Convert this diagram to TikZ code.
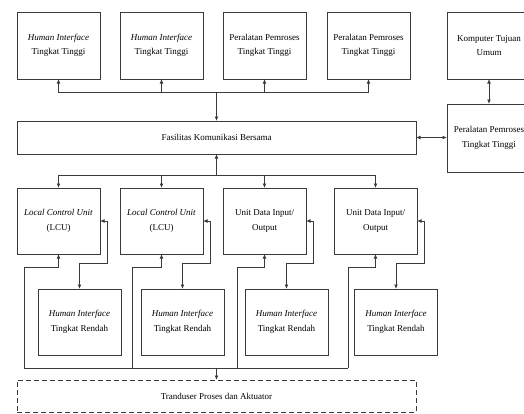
\documentclass[tikz,border=0pt]{standalone}
\usepackage{fontspec}
\setmainfont{Liberation Serif}
\usetikzlibrary{arrows.meta}
\definecolor{linec}{HTML}{3A3A3A}
\begin{document}
\begin{tikzpicture}[x=1pt,y=-1pt,
 box/.style={draw=linec, line width=0.9pt, minimum width=83pt, minimum height=67pt, inner sep=0pt, outer sep=0pt, align=center, font=\fontsize{9}{14.5}\selectfont},
 conn/.style={draw=linec, line width=0.9pt},
 arr/.style={conn,-{Latex[length=4.5pt,width=3.8pt]}},
 darr/.style={conn,{Latex[length=4.5pt,width=3.8pt]}-{Latex[length=4.5pt,width=3.8pt]}},
 dashbox/.style={box, dash pattern=on 5pt off 3pt}
]
\useasboundingbox (0,0) rectangle (524,413);

% top row
\node[box] (t1) at (58.5,45.5) {\textit{Human Interface}\\Tingkat Tinggi};
\node[box] (t2) at (161.5,45.5) {\textit{Human Interface}\\Tingkat Tinggi};
\node[box] (t3) at (264.5,45.5) {Peralatan Pemroses\\Tingkat Tinggi};
\node[box] (t4) at (368.5,45.5) {Peralatan Pemroses\\Tingkat Tinggi};
\node[box, minimum width=84pt] (pc) at (489,45.5) {Komputer Tujuan\\Umum};
\node[box, minimum width=84pt, minimum height=68pt] (r2) at (489,138) {Peralatan Pemroses\\Tingkat Tinggi};

% communication
\node[box, minimum width=399pt, minimum height=33pt] (fas) at (216.5,137.5) {Fasilitas Komunikasi Bersama};

% middle row
\node[box, minimum height=66pt] (m1) at (58.5,221) {\textit{Local Control Unit}\\(LCU)};
\node[box, minimum height=66pt] (m2) at (161.5,221) {\textit{Local Control Unit}\\(LCU)};
\node[box, minimum height=66pt] (m3) at (264.5,221) {Unit Data Input/\\Output};
\node[box, minimum height=66pt] (m4) at (375.5,221) {Unit Data Input/\\Output};

% lower row
\node[box, minimum height=66pt] (l1) at (79.5,322) {\textit{Human Interface}\\Tingkat Rendah};
\node[box, minimum height=66pt] (l2) at (182.5,322) {\textit{Human Interface}\\Tingkat Rendah};
\node[box, minimum height=66pt] (l3) at (286.5,322) {\textit{Human Interface}\\Tingkat Rendah};
\node[box, minimum height=66pt] (l4) at (396,322) {\textit{Human Interface}\\Tingkat Rendah};

% transducer
\node[dashbox, minimum width=399pt, minimum height=32pt] (tr) at (216.5,396) {Tranduser Proses dan Aktuator};

% top bus
\coordinate (tb) at (216.5,92);
\draw[arr] (tb) -- (fas.north);
\foreach \n in {t1,t2,t3,t4} \draw[arr] (tb) -| (\n.south);

% lower bus
\coordinate (lb) at (216.5,175);
\draw[arr] (lb) -- (fas.south);
\foreach \n in {m1,m2,m3,m4} \draw[arr] (lb) -| (\n.north);

% right side
\draw[darr] (fas.east) -- (fas.east -| r2.west);
\draw[darr] (pc.south) -- (r2.north);

% unit <-> low-level HI
\foreach \m/\l in {m1/l1,m2/l2,m3/l3,m4/l4}
  \draw[darr] (\m.east) -- ++(7,0) |- ([yshift=26pt]\l.north) -- (\l.north);

% field bus
\coordinate (bb) at (216.5,368);
\coordinate (f1) at (24,368);
\coordinate (f2) at (132,368);
\coordinate (f3) at (237,368);
\coordinate (f4) at (348,368);
\draw[conn] (f1) -- (f4);
\draw[arr] (bb) -- (tr.north);
\foreach \f/\m in {f1/m1,f2/m2,f3/m3,f4/m4}
  \draw[arr] (\f) |- ([yshift=-13pt]\m.south) -- (\m.south);
\end{tikzpicture}
\end{document}
